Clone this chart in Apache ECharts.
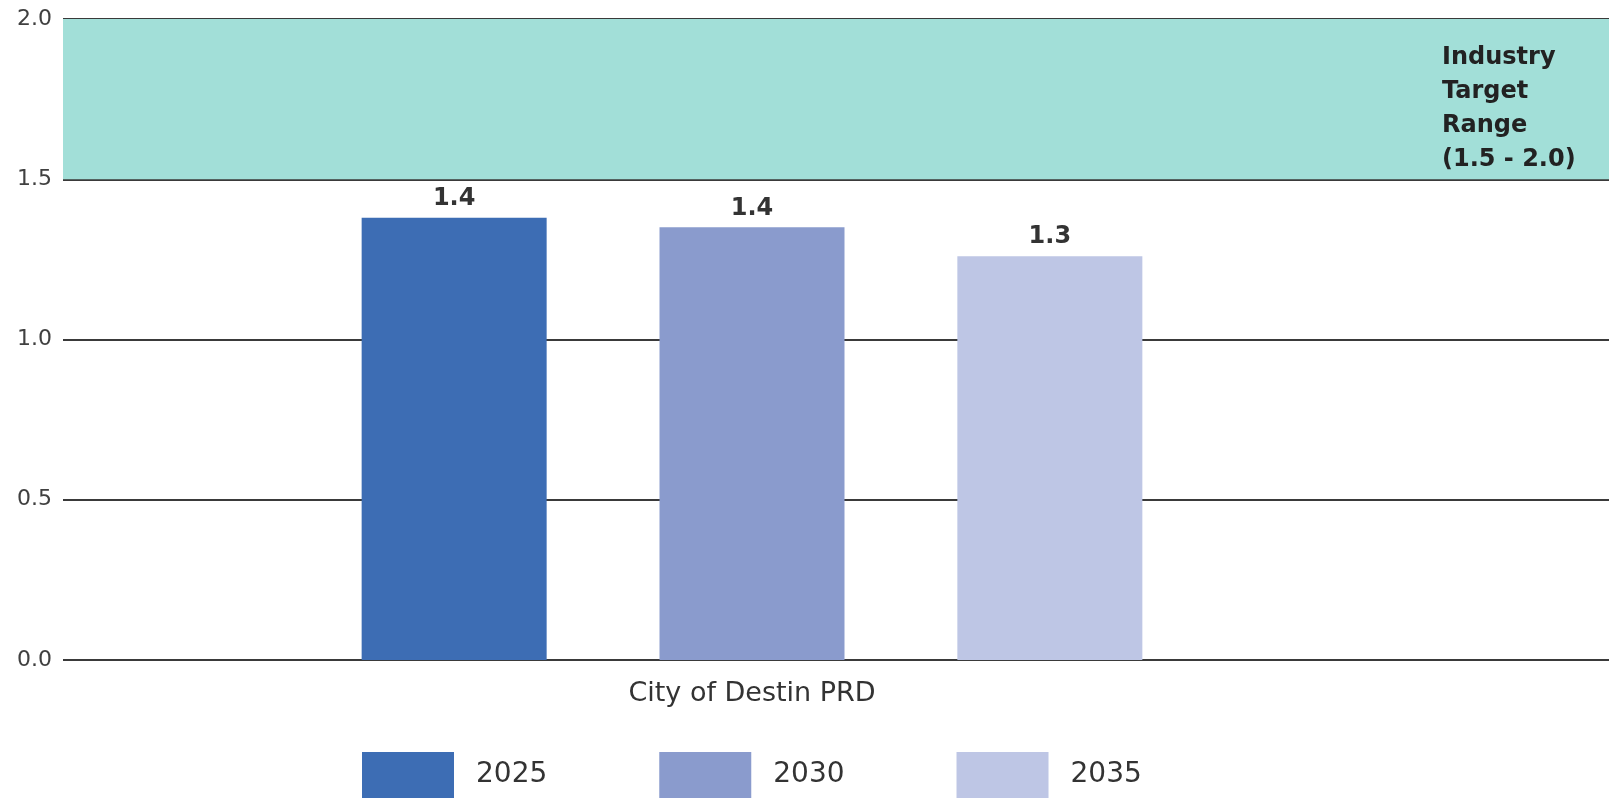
<!DOCTYPE html>
<html>
<head>
<meta charset="utf-8">
<title>City of Destin PRD</title>
<script src="https://cdn.jsdelivr.net/npm/echarts@6/dist/echarts.min.js"></script>
<style>
  html, body { margin: 0; padding: 0; background: #ffffff; }
  #chart { width: 1613px; height: 801px; }
</style>
</head>
<body>
<div id="chart"></div>
<script>
// Category, series and tick values
const categories = ['City of Destin PRD'];
const years = ['2025', '2030', '2035'];
const ratios = [1.38, 1.35, 1.26];
const yTicks = [0, 0.5, 1.0, 1.5, 2.0];
const targetRange = [1.5, 2.0];
const targetLabel = ['Industry', 'Target', 'Range', '(1.5 - 2.0)'];

const barColors = ['#3d6db4', '#8a9bcd', '#bec6e5'];
const axisFont = '"DejaVu Sans", sans-serif';

const chart = echarts.init(document.getElementById('chart'), null, { renderer: 'canvas' });

// One bar series per year, all on the category grid
const barSeries = years.map((y, i) => ({
  name: y,
  type: 'bar',
  xAxisIndex: 1,
  yAxisIndex: 1,
  barWidth: 185,
  barGap: '61%',
  itemStyle: { color: barColors[i] },
  label: {
    show: true,
    position: 'top',
    distance: 7,
    fontFamily: axisFont,
    fontWeight: 'bold',
    fontSize: 24,
    color: '#333333',
    formatter: p => Number(p.value).toFixed(1)
  },
  data: [ratios[i]]
}));

const option = {
  backgroundColor: '#ffffff',
  animation: false,
  grid: [
    // full-width grid: gridlines and the target band
    { left: 63, right: 4, top: 19, bottom: 141 },
    // plotting grid for the bars
    { left: 63, right: 172, top: 19, bottom: 141 }
  ],
  xAxis: [
    { gridIndex: 0, type: 'value', min: 0, max: 1, show: false },
    {
      gridIndex: 1,
      type: 'category',
      data: categories,
      axisLine: { show: false },
      axisTick: { show: false },
      axisLabel: {
        margin: 20,
        fontFamily: axisFont,
        fontSize: 27,
        color: '#333333'
      }
    }
  ],
  yAxis: [
    {
      gridIndex: 0,
      type: 'value',
      min: yTicks[0],
      max: yTicks[yTicks.length - 1],
      interval: yTicks[1] - yTicks[0],
      axisLine: { show: false },
      axisTick: { show: false },
      axisLabel: {
        margin: 11,
        fontFamily: axisFont,
        fontSize: 22,
        color: '#404040',
        padding: [0, 0, 6, 0],
        formatter: v => v.toFixed(1)
      },
      splitLine: { show: true, lineStyle: { color: '#3a3a3a', width: 1.8 } }
    },
    {
      gridIndex: 1,
      type: 'value',
      min: yTicks[0],
      max: yTicks[yTicks.length - 1],
      show: false
    }
  ],
  legend: {
    data: years,
    left: 362,
    top: 752,
    padding: 0,
    icon: 'rect',
    itemWidth: 92,
    itemHeight: 46,
    itemGap: 112,
    textStyle: {
      fontFamily: axisFont,
      fontSize: 28,
      color: '#333333',
      padding: [0, 0, 0, 17]
    }
  },
  series: [
    {
      name: 'target',
      type: 'line',
      xAxisIndex: 0,
      yAxisIndex: 0,
      z: -1,
      data: [],
      markArea: {
        silent: true,
        itemStyle: { color: '#a2dfd8' },
        label: {
          show: true,
          position: [1379, 22],
          align: 'left',
          verticalAlign: 'top',
          fontFamily: axisFont,
          fontWeight: 'bold',
          fontSize: 24,
          lineHeight: 34,
          color: '#222222',
          formatter: targetLabel.join('\n')
        },
        data: [[{ yAxis: targetRange[0] }, { yAxis: targetRange[1] }]]
      }
    },
    ...barSeries
  ]
};

chart.setOption(option);
</script>
</body>
</html>
